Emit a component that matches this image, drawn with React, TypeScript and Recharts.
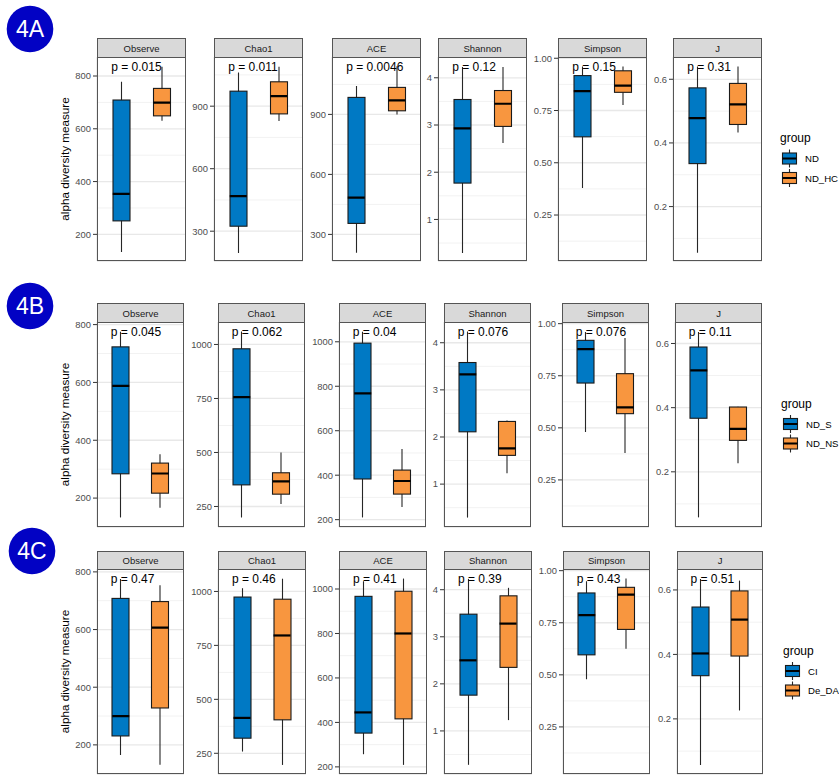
import React from "react";
import {
  ComposedChart,
  Bar,
  Scatter,
  XAxis,
  YAxis,
  CartesianGrid,
  ReferenceDot,
} from "recharts";

// Alpha diversity metrics, one facet each
const METRICS = ["Observe", "Chao1", "ACE", "Shannon", "Simpson", "J"];
const TICK_DIGITS = [0, 0, 0, 0, 2, 1];

// Five-number summaries per metric: [lower whisker, Q1, median, Q3, upper whisker]
// --- 4A: ND vs ND_HC
const GROUPS_A = ["ND", "ND_HC"];
const BOXES_ND = [
  [133, 251, 353, 709, 778],
  [195, 324, 468, 972, 1062],
  [208, 355, 484, 985, 1042],
  [0.29, 1.77, 2.93, 3.54, 4.23],
  [0.379, 0.624, 0.843, 0.917, 0.96],
  [0.055, 0.335, 0.478, 0.573, 0.64],
];
const BOXES_ND_HC = [
  [630, 649, 699, 753, 835],
  [829, 863, 948, 1017, 1089],
  [900, 918, 970, 1035, 1141],
  [2.62, 2.97, 3.45, 3.73, 4.23],
  [0.776, 0.837, 0.869, 0.94, 0.96],
  [0.433, 0.458, 0.521, 0.587, 0.64],
];
const P_A = ["0.015", "0.011", "0.0046", "0.12", "0.15", "0.31"];
const DOMAINS_A = [
  [99, 872],
  [157, 1136],
  [167, 1187],
  [0.12, 4.44],
  [0.03, 1.006],
  [0.029, 0.67],
];
const TICKS_A = [
  [200, 400, 600, 800],
  [300, 600, 900],
  [300, 600, 900],
  [1, 2, 3, 4],
  [0.25, 0.5, 0.75, 1],
  [0.2, 0.4, 0.6],
];
const MINOR_A = [
  [300, 500, 700],
  [450, 750, 1050],
  [450, 750, 1050],
  [0.5, 1.5, 2.5, 3.5],
  [0.125, 0.375, 0.625, 0.875],
  [0.1, 0.3, 0.5],
];

// --- 4B: ND_S vs ND_NS
const GROUPS_B = ["ND_S", "ND_NS"];
const BOXES_ND_S = [
  [133, 284, 588, 723, 775],
  [199, 350, 756, 980, 1060],
  [210, 383, 768, 994, 1045],
  [0.29, 2.11, 3.33, 3.58, 4.24],
  [0.48, 0.715, 0.878, 0.92, 0.96],
  [0.058, 0.367, 0.516, 0.589, 0.636],
];
const BOXES_ND_NS = [
  [167, 217, 285, 321, 352],
  [261, 307, 366, 406, 500],
  [257, 315, 374, 423, 518],
  [1.23, 1.61, 1.76, 2.33, 2.35],
  [0.379, 0.568, 0.598, 0.76, 0.931],
  [0.227, 0.298, 0.334, 0.402, 0.403],
];
const P_B = ["0.045", "0.062", "0.04", "0.076", "0.076", "0.11"];

// --- 4C: CI vs De_DA
const GROUPS_C = ["CI", "De_DA"];
const BOXES_CI = [
  [165, 231, 300, 708, 775],
  [258, 320, 414, 974, 1015],
  [257, 352, 445, 967, 1035],
  [0.28, 1.76, 2.5, 3.48, 4.23],
  [0.479, 0.596, 0.787, 0.893, 0.949],
  [0.057, 0.334, 0.403, 0.547, 0.634],
];
const BOXES_DE_DA = [
  [131, 328, 607, 697, 754],
  [196, 405, 796, 964, 1059],
  [209, 416, 800, 990, 1047],
  [1.23, 2.35, 3.28, 3.87, 4.04],
  [0.625, 0.718, 0.885, 0.92, 0.962],
  [0.226, 0.395, 0.508, 0.597, 0.629],
];
const P_C = ["0.47", "0.46", "0.41", "0.39", "0.43", "0.51"];

const DOMAINS_B = [
  [100, 809],
  [155, 1104],
  [167, 1089],
  [0.09, 4.44],
  [0.024, 1.008],
  [0.028, 0.667],
];
const DOMAINS_C = [
  [99, 810],
  [154, 1104],
  [168, 1090],
  [0.085, 4.44],
  [0.024, 1.008],
  [0.029, 0.665],
];
const TICKS_BC = [
  [200, 400, 600, 800],
  [250, 500, 750, 1000],
  [200, 400, 600, 800, 1000],
  [1, 2, 3, 4],
  [0.25, 0.5, 0.75, 1],
  [0.2, 0.4, 0.6],
];
const MINOR_BC = [
  [300, 500, 700],
  [375, 625, 875],
  [300, 500, 700, 900],
  [0.5, 1.5, 2.5, 3.5],
  [0.125, 0.375, 0.625, 0.875],
  [0.1, 0.3, 0.5],
];

const ROWS = [
  { tag: "4A", groups: GROUPS_A, boxes: [BOXES_ND, BOXES_ND_HC], pvals: P_A, domains: DOMAINS_A, ticks: TICKS_A, minor: MINOR_A },
  { tag: "4B", groups: GROUPS_B, boxes: [BOXES_ND_S, BOXES_ND_NS], pvals: P_B, domains: DOMAINS_B, ticks: TICKS_BC, minor: MINOR_BC },
  { tag: "4C", groups: GROUPS_C, boxes: [BOXES_CI, BOXES_DE_DA], pvals: P_C, domains: DOMAINS_C, ticks: TICKS_BC, minor: MINOR_BC },
];

// ---- layout & style
const FILLS = ["#0079C4", "#F8963F"];
const FONT = '"Liberation Sans", Arial, Helvetica, sans-serif';
const AXW = 32; // y-axis gutter
const XAH = 6; // bottom tick gutter
const TOP_PAD = 8; // room for tick labels sitting on the top edge
const BOX_W = 17;
const BORDER = "#555555";

const LAYOUT = [
  {
    stripTop: 38, plotTop: 57, plotBottom: 261,
    lefts: [97, 214, 332, 438, 558, 673],
    rights: [186, 303, 421, 527, 647, 762],
    badge: [30, 29], legendX: 780,
  },
  {
    stripTop: 303, plotTop: 322, plotBottom: 527,
    lefts: [97, 218, 339, 444, 562, 675],
    rights: [184, 305, 426, 531, 649, 762],
    badge: [30, 306], legendX: 781,
  },
  {
    stripTop: 551, plotTop: 569, plotBottom: 774,
    lefts: [97, 218, 339, 444, 563, 677],
    rights: [184, 306, 427, 532, 650, 763],
    badge: [32, 551], legendX: 783,
  },
];

const WhiskerShape = (p: any) => {
  const cx = p.x + p.width / 2;
  return <line x1={cx} x2={cx} y1={p.y} y2={p.y + p.height} stroke="#262626" strokeWidth={1.1} />;
};

const BoxShape = (p: any) => {
  const top = Math.min(p.y, p.y + p.height);
  const h = Math.abs(p.height);
  return (
    <rect x={p.x} y={top} width={p.width} height={h} fill={FILLS[p.index % 2]} stroke="#1a1a1a" strokeWidth={1.1} />
  );
};

const MedianShape = (p: any) => (
  <line x1={p.cx - BOX_W / 2} x2={p.cx + BOX_W / 2} y1={p.cy} y2={p.cy} stroke="#000" strokeWidth={2.2} />
);

function Facet({ row, m }: { row: number; m: number }) {
  const cfg = ROWS[row];
  const lay = LAYOUT[row];
  const left = lay.lefts[m];
  const plotW = lay.rights[m] - left;
  const plotH = lay.plotBottom - lay.plotTop;
  const data = cfg.groups.map((g, gi) => {
    const [lo, q1, med, q3, hi] = cfg.boxes[gi][m];
    return { group: g, lo, q1, med, q3, hi };
  });
  const domain = cfg.domains[m];
  const digits = TICK_DIGITS[m];
  const pText = `p = ${cfg.pvals[m]}`;

  return (
    <div style={{ position: "absolute", left: left - AXW, top: lay.plotTop - TOP_PAD }}>
      <ComposedChart
        width={AXW + plotW}
        height={TOP_PAD + plotH + XAH}
        data={data}
        margin={{ top: TOP_PAD, right: 0, bottom: 0, left: 0 }}
      >
        <XAxis
          xAxisId="box"
          dataKey="group"
          type="category"
          padding={{ left: 4, right: 4 }}
          height={XAH}
          tick={false}
          tickSize={4}
          axisLine={false}
          tickLine={{ stroke: "#333", strokeWidth: 1 }}
        />
        <XAxis xAxisId="whisker" dataKey="group" type="category" padding={{ left: 4, right: 4 }} hide />
        <YAxis
          yAxisId="main"
          type="number"
          domain={domain}
          allowDataOverflow
          ticks={cfg.ticks[m]}
          interval={0}
          width={AXW}
          tickSize={4}
          tickMargin={2}
          axisLine={false}
          tickLine={{ stroke: "#333", strokeWidth: 1 }}
          tick={{ fill: "#4d4d4d", fontSize: 9.4 }}
          tickFormatter={(v: number) => v.toFixed(digits)}
        />
        <YAxis yAxisId="minor" type="number" domain={domain} allowDataOverflow ticks={cfg.minor[m]} interval={0} hide />
        <CartesianGrid xAxisId="box" yAxisId="minor" vertical={false} stroke="#f2f2f2" strokeWidth={1} />
        <CartesianGrid xAxisId="box" yAxisId="main" stroke="#e8e8e8" strokeWidth={1.3} />
        <Bar
          xAxisId="whisker"
          yAxisId="main"
          dataKey={(d: any) => [d.lo, d.hi]}
          barSize={BOX_W}
          shape={WhiskerShape}
          isAnimationActive={false}
        />
        <Bar
          xAxisId="box"
          yAxisId="main"
          dataKey={(d: any) => [d.q1, d.q3]}
          barSize={BOX_W}
          shape={BoxShape}
          isAnimationActive={false}
        />
        <Scatter xAxisId="box" yAxisId="main" dataKey="med" shape={MedianShape} isAnimationActive={false} />
        <ReferenceDot
          xAxisId="box"
          yAxisId="main"
          x={cfg.groups[0]}
          y={domain[1]}
          r={0}
          ifOverflow="visible"
          shape={(p: any) => (
            <text x={p.cx - 10} y={p.cy + 14.3} fontSize={12} fill="#000">
              {pText}
            </text>
          )}
        />
      </ComposedChart>
    </div>
  );
}

function Decorations() {
  return (
    <svg
      width={839}
      height={775}
      style={{ position: "absolute", left: 0, top: 0, pointerEvents: "none" }}
    >
      {LAYOUT.map((lay, r) => {
        const cfg = ROWS[r];
        const midY = (lay.plotTop + lay.plotBottom) / 2;
        const lx = lay.legendX;
        return (
          <g key={r}>
            {/* panel tag badge */}
            <circle cx={lay.badge[0]} cy={lay.badge[1]} r={23.3} fill="#0202C4" />
            <text
              x={lay.badge[0]}
              y={lay.badge[1]}
              fill="#fff"
              fontSize={23}
              textAnchor="middle"
              dominantBaseline="central"
            >
              {cfg.tag}
            </text>

            {/* shared y title */}
            <text
              transform={`translate(68.5, ${midY}) rotate(-90)`}
              textAnchor="middle"
              fontSize={11.7}
              fill="#000"
            >
              alpha diversity measure
            </text>

            {/* strips and panel frames */}
            {METRICS.map((name, m) => {
              const x0 = lay.lefts[m];
              const w = lay.rights[m] - x0;
              const sh = lay.plotTop - lay.stripTop;
              return (
                <g key={name}>
                  <rect
                    x={x0 + 0.5}
                    y={lay.stripTop + 0.5}
                    width={w - 1}
                    height={sh}
                    fill="#d9d9d9"
                    stroke={BORDER}
                    strokeWidth={1}
                  />
                  <text
                    x={x0 + w / 2}
                    y={lay.stripTop + sh / 2 + 0.5}
                    textAnchor="middle"
                    dominantBaseline="central"
                    fontSize={9.5}
                    fill="#1a1a1a"
                  >
                    {name}
                  </text>
                  <rect
                    x={x0 + 0.5}
                    y={lay.plotTop + 0.5}
                    width={w - 1}
                    height={lay.plotBottom - lay.plotTop - 1}
                    fill="none"
                    stroke={BORDER}
                    strokeWidth={1}
                  />
                </g>
              );
            })}

            {/* legend */}
            <text x={lx} y={midY - 21} fontSize={12} fill="#000" dominantBaseline="central">
              group
            </text>
            {cfg.groups.map((g, gi) => {
              const cy = midY - 0.5 + gi * 19.5;
              const kx = lx + 9.5;
              return (
                <g key={g}>
                  <line x1={kx} x2={kx} y1={cy - 9} y2={cy + 9} stroke="#262626" strokeWidth={1.1} />
                  <rect x={kx - 7} y={cy - 5.5} width={14} height={11} fill={FILLS[gi]} stroke="#1a1a1a" strokeWidth={1.1} />
                  <line x1={kx - 7} x2={kx + 7} y1={cy} y2={cy} stroke="#000" strokeWidth={2} />
                  <text x={lx + 25} y={cy} fontSize={9.6} fill="#000" dominantBaseline="central">
                    {g}
                  </text>
                </g>
              );
            })}
          </g>
        );
      })}
    </svg>
  );
}

export default function App() {
  return (
    <div
      style={{
        position: "absolute",
        left: 0,
        top: 0,
        width: 839,
        height: 775,
        background: "#fff",
        overflow: "hidden",
        fontFamily: FONT,
      }}
    >
      {ROWS.map((_, r) => METRICS.map((name, m) => <Facet key={`${r}-${name}`} row={r} m={m} />))}
      <Decorations />
    </div>
  );
}
